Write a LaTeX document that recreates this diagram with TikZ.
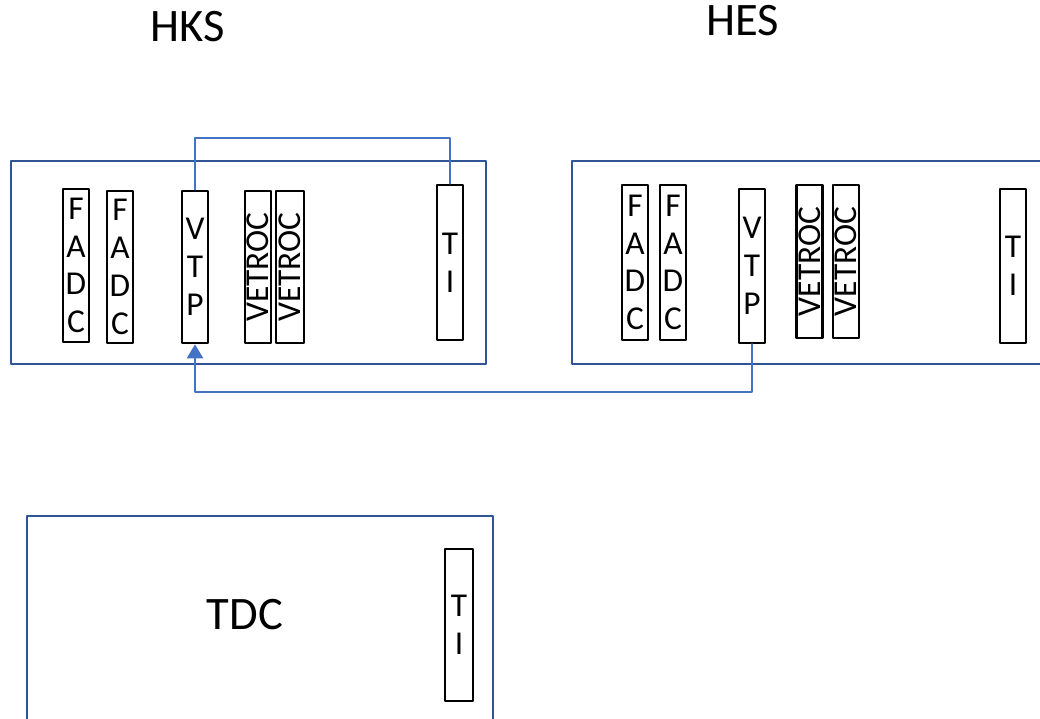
\documentclass[tikz,border=0pt]{standalone}
\usepackage{fontspec}
\setmainfont{Carlito}
\usetikzlibrary{arrows.meta,calc,positioning}
\definecolor{crateblue}{RGB}{47,85,151}
\definecolor{linkblue}{RGB}{68,114,196}
\tikzset{
  crate/.style={draw=crateblue,line width=1.45pt,inner sep=0pt},
  module/.style={draw=black,line width=1.4pt,inner sep=0pt,minimum width=.52cm,
    align=center,font=\fontsize{19}{21.5}\selectfont},
  vmodule/.style={module,rotate=90,minimum height=.52cm,minimum width=3.05cm},
  title/.style={font=\fontsize{26.5}{32}\selectfont}
}
\begin{document}
\begin{tikzpicture}[x=.02cm,y=-.02cm,line cap=round,line join=round]
\clip (0,0) rectangle (1040,719);
% Dwie skrzynki VXS: HKS i HES z modułami.
\node[crate,minimum width=9.5cm,minimum height=4.06cm] (hkscrate) at (248.5,262.5) {};
\node[crate,minimum width=9.8cm,minimum height=4.06cm] (hescrate) at (817,262.5) {};
\node[title] (hkslabel) at (188,27) {HKS};
\node[title] (heslabel) at (743,21) {HES};
\node[module,minimum height=3.06cm] (hksfadca) at (76,265.5) {F\\A\\D\\C};
\node[module,minimum height=3.04cm] (hksfadcb) at (120,267) {F\\A\\D\\C};
\node[module,minimum height=3.04cm] (hksvtp) at (195,267) {V\\T\\P};
\node[vmodule] (hksvetroca) at (258,267) {VETROC};
\node[vmodule,minimum height=.56cm] (hksvetrocb) at (290,267) {VETROC};
\node[module,minimum height=3.1cm] (hksti) at (450,262.5) {T\\I};
\node[module,minimum height=3.1cm] (hesfadca) at (635,262.5) {F\\A\\D\\C};
\node[module,minimum height=3.1cm] (hesfadcb) at (673,262.5) {F\\A\\D\\C};
\node[module,minimum height=3.08cm] (hesvtp) at (752,266) {V\\T\\P};
\node[vmodule,minimum width=3.06cm] (hesvetroca) at (809.5,261.5) {VETROC};
\node[vmodule,minimum width=3.06cm] (hesvetrocb) at (846,261.5) {VETROC};
\node[module,minimum height=3.08cm] (hesti) at (1013,266) {T\\I};
% Połączenia między modułami.
\draw[linkblue,line width=.9pt] (hksvtp.north) -- (hksvtp.north |- 0,138) -| (hksti.north);
\draw[linkblue,line width=1.6pt,-{Triangle[length=8pt,width=9pt]}]
  (hesvtp.south) -- (hesvtp.south |- 0,392) -| (hksvtp.south);
% Skrzynka TDC.
\node[crate,minimum width=9.32cm,minimum height=4.48cm] (tdccrate) at (260,628) {};
\node[title] (tdclabel) at (245,615) {TDC};
\node[module,minimum height=3.04cm,minimum width=.56cm] (tdcti) at (459,625) {T\\I};
\end{tikzpicture}
\end{document}
